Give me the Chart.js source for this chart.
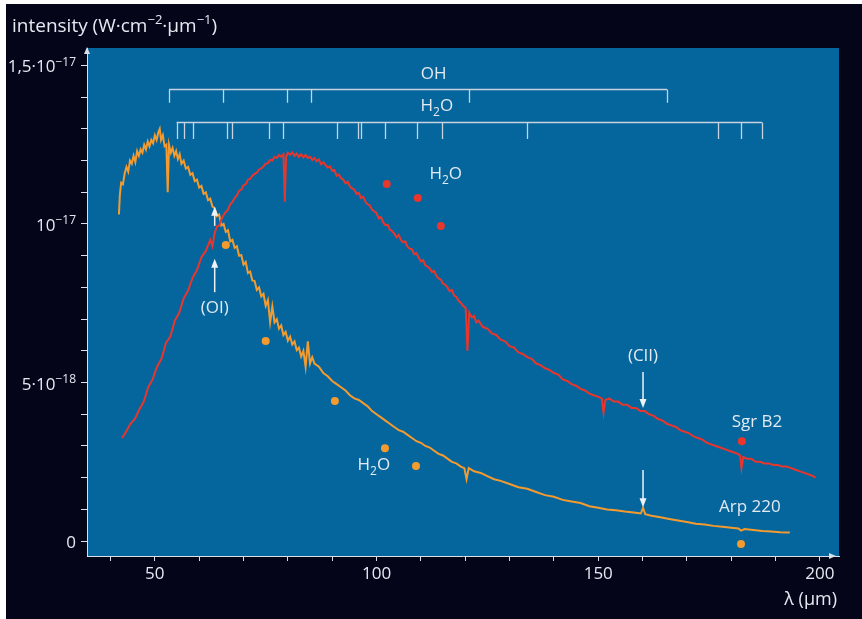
<!DOCTYPE html>
<html>
<head>
<meta charset="utf-8">
<script src="https://cdn.jsdelivr.net/npm/chart.js@4.4.0/dist/chart.umd.min.js"></script>
<style>
  html, body { margin: 0; padding: 0; background: #fff; }
  canvas { display: block; }
</style>
</head>
<body>
<canvas id="spectrum" width="862" height="619"></canvas>
<script>
// wavelength in µm, intensity in units of 1e-18 W·cm-2·µm-1
const sgrLambda = [42.6, 43.5, 44.5, 45.5, 46.5, 47.5, 48.5, 49.5, 50.5, 51.5, 52.5, 53.5, 54.5, 55.5, 56.5, 57.5, 58.5, 59.5, 60.5, 61.5,
  62.5, 63.0, 63.5, 64.0, 64.5, 65.0, 65.5, 66.0, 66.5, 67.0, 67.5, 68.0, 68.5, 69.0, 69.5, 70.0, 70.5, 71.0, 71.5, 72.0,
  72.5, 73.0, 73.5, 74.0, 74.5, 75.0, 75.5, 76.0, 76.5, 77.0, 77.5, 78.0, 78.5, 79.0, 79.3, 79.6, 80.0, 80.5, 81.0, 81.5,
  82.0, 82.5, 83.0, 83.5, 84.0, 84.5, 85.0, 85.5, 86.0, 86.5, 87.0, 87.5, 88.0, 88.5, 89.0, 89.5, 90.0, 90.5, 91.0, 91.5,
  92.0, 92.5, 93.0, 93.5, 94.0, 94.5, 95.0, 95.5, 96.0, 96.5, 97.0, 97.5, 98.0, 98.5, 99.0, 99.5, 100.0, 100.5, 101.0, 101.5,
  102.0, 102.5, 103.0, 103.5, 104.0, 104.5, 105.0, 105.5, 106.0, 106.5, 107.0, 107.5, 108.0, 108.5, 109.0, 109.5, 110.0, 110.5, 111.0, 111.5,
  112.0, 112.5, 113.0, 113.5, 114.0, 114.5, 115.0, 115.5, 116.0, 116.5, 117.0, 117.5, 118.0, 118.5, 119.0, 119.5, 120.1, 120.5, 120.9, 121.5,
  122.0, 122.5, 123.0, 124.0, 125.0, 126.0, 127.0, 128.0, 129.0, 130.0, 131.0, 132.0, 133.0, 134.0, 135.0, 136.0, 137.0, 138.0, 139.0, 140.0,
  141.0, 142.0, 143.0, 144.0, 145.0, 146.0, 147.0, 148.0, 149.0, 150.0, 150.8, 151.2, 151.6, 152.5, 153.5, 154.5, 155.5, 156.5, 157.5, 158.5,
  159.5, 160.5, 161.5, 162.5, 163.5, 164.5, 165.5, 166.5, 167.5, 168.5, 169.5, 170.5, 171.5, 172.5, 173.5, 174.5, 175.5, 176.5, 177.5, 178.5,
  179.5, 180.5, 181.5, 182.0, 182.3, 182.7, 183.5, 184.5, 185.5, 186.5, 187.5, 188.5, 189.5, 190.5, 191.5, 192.5, 193.5, 194.5, 195.5, 196.5,
  197.5, 198.5, 199.0];
const sgrFlux = [3.25, 3.45, 3.7, 3.85, 4.15, 4.4, 4.85, 5.1, 5.5, 5.75, 6.25, 6.45, 6.95, 7.2, 7.65, 7.9, 8.3, 8.55, 8.95, 9.15,
  9.5, 9.3, 9.72, 9.92, 9.95, 10.15, 10.28, 10.38, 10.45, 10.62, 10.7, 10.82, 10.9, 11.05, 11.08, 11.22, 11.25, 11.4, 11.42, 11.52,
  11.58, 11.62, 11.72, 11.75, 11.82, 11.9, 11.92, 12.02, 12.0, 12.12, 12.08, 12.18, 12.12, 12.2, 10.7, 12.12, 12.25, 12.18, 12.26, 12.15,
  12.22, 12.12, 12.2, 12.1, 12.18, 12.08, 12.12, 12.02, 12.08, 11.98, 12.04, 11.88, 11.95, 11.86, 11.78, 11.82, 11.68, 11.7, 11.52, 11.56,
  11.44, 11.4, 11.28, 11.33, 11.18, 11.12, 11.08, 10.95, 10.98, 10.82, 10.86, 10.7, 10.62, 10.58, 10.45, 10.4, 10.34, 10.18, 10.22, 10.05,
  9.96, 9.98, 9.82, 9.78, 9.7, 9.58, 9.66, 9.5, 9.42, 9.45, 9.28, 9.22, 9.2, 9.04, 9.08, 8.94, 8.82, 8.86, 8.7, 8.66,
  8.6, 8.48, 8.52, 8.36, 8.28, 8.25, 8.12, 8.08, 8.0, 7.88, 7.92, 7.74, 7.7, 7.58, 7.52, 7.42, 7.35, 6.0, 7.2, 7.05,
  7.1, 6.9, 6.95, 6.75, 6.7, 6.55, 6.5, 6.35, 6.3, 6.15, 6.1, 5.95, 5.9, 5.8, 5.75, 5.6, 5.55, 5.45, 5.4, 5.3,
  5.25, 5.1, 5.05, 4.95, 4.9, 4.8, 4.75, 4.65, 4.6, 4.55, 4.5, 4.05, 4.45, 4.5, 4.4, 4.4, 4.3, 4.3, 4.2, 4.2,
  4.1, 4.1, 4.0, 3.95, 3.85, 3.8, 3.7, 3.65, 3.6, 3.5, 3.45, 3.4, 3.3, 3.25, 3.2, 3.1, 3.05, 3.0, 2.95, 2.9,
  2.85, 2.8, 2.75, 2.7, 2.3, 2.65, 2.6, 2.6, 2.5, 2.5, 2.45, 2.45, 2.4, 2.4, 2.35, 2.35, 2.3, 2.25, 2.2, 2.15,
  2.1, 2.05, 2.0];

const arpLambda = [41.9, 42.1, 42.4, 42.8, 43.2, 43.6, 44.0, 44.4, 44.8, 45.2, 45.6, 46.0, 46.4, 46.8, 47.2, 47.6, 48.0, 48.4, 48.8, 49.2,
  49.6, 50.0, 50.4, 50.8, 51.1, 51.4, 51.8, 52.2, 52.6, 52.9, 53.2, 53.6, 54.0, 54.4, 54.8, 55.2, 55.6, 56.0, 56.5, 57.0,
  57.5, 58.0, 58.5, 59.0, 59.5, 60.0, 60.5, 61.0, 61.5, 62.0, 62.5, 63.0, 63.5, 64.0, 64.5, 65.0, 65.5, 66.0, 66.5, 67.0,
  67.5, 68.0, 68.5, 69.0, 69.5, 70.0, 70.5, 71.0, 71.5, 72.0, 72.5, 73.0, 73.5, 74.0, 74.5, 75.0, 75.5, 76.0, 76.5, 77.0,
  77.5, 78.0, 78.5, 79.0, 79.5, 80.0, 80.5, 81.0, 81.5, 82.0, 82.5, 83.0, 83.5, 84.0, 84.5, 85.0, 85.5, 86.0, 87.0, 88.0,
  89.0, 90.0, 91.0, 92.0, 93.0, 94.0, 95.0, 96.0, 97.0, 98.0, 99.0, 100.0, 101.0, 102.0, 103.0, 104.0, 105.0, 106.0, 107.0, 108.0,
  109.0, 110.0, 111.0, 112.0, 113.0, 114.0, 115.0, 116.0, 117.0, 118.0, 119.0, 119.8, 120.3, 120.8, 122.0, 123.5, 125.0, 126.5, 128.0, 130.0,
  132.0, 134.0, 136.0, 138.0, 140.0, 142.0, 144.0, 146.0, 148.0, 150.0, 152.0, 154.0, 156.0, 158.0, 159.6, 160.1, 160.6, 162.0, 164.0, 166.0,
  168.0, 170.0, 172.0, 174.0, 176.0, 178.0, 180.0, 181.6, 182.2, 183.0, 185.0, 187.0, 189.0, 191.0, 193.2];
const arpFlux = [10.3, 10.9, 11.3, 11.25, 11.6, 11.8, 11.65, 12.0, 11.9, 12.15, 11.95, 12.3, 12.15, 12.35, 12.25, 12.5, 12.35, 12.6, 12.45, 12.65,
  12.55, 12.8, 12.65, 12.9, 13.0, 12.65, 12.8, 12.45, 12.5, 11.0, 12.5, 12.25, 12.4, 12.15, 12.3, 12.05, 12.2, 11.9, 12.0, 11.75,
  11.8, 11.55, 11.6, 11.35, 11.4, 11.15, 11.2, 10.95, 11.0, 10.75, 10.8, 10.55, 10.5, 10.25, 10.3, 9.95, 10.0, 9.75, 9.8, 9.45,
  9.5, 9.25, 9.3, 9.0, 9.02, 8.72, 8.8, 8.45, 8.5, 8.22, 8.2, 7.92, 8.0, 7.72, 7.8, 7.42, 7.6, 6.9, 7.4, 6.9,
  7.0, 6.7, 6.8, 6.5, 6.6, 6.32, 6.45, 6.2, 6.3, 6.02, 6.1, 5.82, 6.0, 5.5, 6.3, 5.6, 5.8, 5.6, 5.5, 5.3,
  5.2, 5.05, 4.95, 4.85, 4.75, 4.6, 4.5, 4.45, 4.35, 4.25, 4.1, 4.0, 3.9, 3.8, 3.7, 3.6, 3.5, 3.45, 3.35, 3.25,
  3.15, 3.1, 3.0, 2.95, 2.85, 2.75, 2.7, 2.6, 2.5, 2.45, 2.35, 2.3, 1.95, 2.3, 2.2, 2.15, 2.05, 1.95, 1.9, 1.8,
  1.7, 1.65, 1.55, 1.45, 1.4, 1.3, 1.25, 1.2, 1.1, 1.05, 1.0, 0.97, 0.93, 0.9, 0.87, 1.05, 0.85, 0.8, 0.75, 0.7,
  0.65, 0.6, 0.55, 0.52, 0.48, 0.45, 0.42, 0.4, 0.33, 0.38, 0.35, 0.32, 0.3, 0.28, 0.27];

// far-IR H2O / continuum photometry points
const sgrDotLambda = [102.3, 109.3, 114.5, 182.4];
const sgrDotFlux = [11.26, 10.82, 9.94, 3.15];
const arpDotLambda = [66.0, 75.0, 90.6, 101.9, 108.9, 182.2];
const arpDotFlux = [9.34, 6.31, 4.42, 2.93, 2.37, -0.09];

// line identifications (µm)
const ohLines = [53.2, 65.3, 79.8, 85.2, 120.8, 165.5];
const h2oLines = [54.9, 56.6, 58.6, 66.3, 67.5, 75.8, 78.8, 91.0, 95.9, 96.6, 102.0, 109.2, 114.7, 134.0, 177.1, 182.3, 186.9];
const oiLine = 63.5;
const ciiLine = 160.1;

const xTicks = [40, 50, 60, 70, 80, 90, 100, 110, 120, 130, 140, 150, 160, 170, 180, 190, 200];
const yTicks = [0, 1, 2, 3, 4, 5, 6, 7, 8, 9, 10, 11, 12, 13, 14, 15];
const yLabelValues = [0, 5, 10, 15];
const yLabelBase = ['0', '5·10', '10', '1,5·10'];
const yLabelExp = ['', '−18', '−17', '−17'];

const FONT = '"Open Sans", "Noto Sans", sans-serif';
const TEXT = '#e4eaf1';
const AXIS = '#d8e0ea';
const RED = '#e8362c';
const ORANGE = '#f49b30';

const pts = (xs, ys) => xs.map((x, i) => ({ x: x, y: ys[i] }));

// parts: [text, shift] with shift 0 normal, 1 subscript, -1 superscript
function richText(ctx, parts, x, y, size, align) {
  const small = Math.round(size * 0.7);
  let w = 0;
  parts.forEach(([t, s]) => {
    ctx.font = (s ? small : size) + 'px ' + FONT;
    w += ctx.measureText(t).width;
  });
  let cx = align === 'right' ? x - w : align === 'center' ? x - w / 2 : x;
  ctx.textAlign = 'left';
  ctx.textBaseline = 'alphabetic';
  parts.forEach(([t, s]) => {
    ctx.font = (s ? small : size) + 'px ' + FONT;
    const dy = s === 1 ? size * 0.28 : s === -1 ? -size * 0.4 : 0;
    ctx.fillText(t, cx, y + dy);
    cx += ctx.measureText(t).width;
  });
}

function arrow(ctx, x, yFrom, yTip) {
  const dir = yTip < yFrom ? -1 : 1;
  ctx.beginPath();
  ctx.moveTo(x, yFrom);
  ctx.lineTo(x, yTip - dir * 6);
  ctx.stroke();
  ctx.beginPath();
  ctx.moveTo(x, yTip);
  ctx.lineTo(x - 3.5, yTip - dir * 9);
  ctx.lineTo(x + 3.5, yTip - dir * 9);
  ctx.closePath();
  ctx.fill();
}

const decor = {
  id: 'decor',
  beforeDraw(chart) {
    const { ctx, chartArea: a } = chart;
    ctx.save();
    ctx.fillStyle = '#ffffff';
    ctx.fillRect(0, 0, chart.width, chart.height);
    ctx.fillStyle = '#05051a';
    ctx.fillRect(6, 4, chart.width - 6, chart.height - 4);
    ctx.fillStyle = '#05659d';
    ctx.fillRect(a.left, a.top, a.right - a.left, a.bottom - a.top);
    ctx.restore();
  },
  afterDraw(chart) {
    const { ctx, chartArea: a } = chart;
    const xs = chart.scales.x, ys = chart.scales.y;
    const px = v => xs.getPixelForValue(v);
    const py = v => ys.getPixelForValue(v);
    ctx.save();
    ctx.strokeStyle = '#c9d3e0';
    ctx.fillStyle = TEXT;
    ctx.lineWidth = 1.3;

    // OH bracket
    const ohTop = Math.round(py(14.26)) + 0.5, ohBot = py(13.82);
    ctx.beginPath();
    ctx.moveTo(px(ohLines[0]), ohTop);
    ctx.lineTo(px(ohLines[ohLines.length - 1]), ohTop);
    ohLines.forEach(l => { ctx.moveTo(Math.round(px(l)) + 0.5, ohTop); ctx.lineTo(Math.round(px(l)) + 0.5, ohBot); });
    ctx.stroke();
    richText(ctx, [['OH', 0]], px(112.9), py(14.76) + 6, 17, 'center');

    // H2O bracket
    const hTop = Math.round(py(13.22)) + 0.5, hBot = py(12.68);
    ctx.beginPath();
    ctx.moveTo(px(h2oLines[0]), hTop);
    ctx.lineTo(px(h2oLines[h2oLines.length - 1]), hTop);
    h2oLines.forEach(l => { ctx.moveTo(Math.round(px(l)) + 0.5, hTop); ctx.lineTo(Math.round(px(l)) + 0.5, hBot); });
    ctx.stroke();
    const h2o = [['H', 0], ['2', 1], ['O', 0]];
    richText(ctx, h2o, px(113.6), py(13.72) + 5, 17, 'center');

    // other labels
    richText(ctx, h2o, px(115.6), py(11.6) + 6, 17, 'center');
    richText(ctx, h2o, px(99.4), py(2.43) + 6, 17, 'center');
    richText(ctx, [['(OI)', 0]], px(oiLine), py(7.38) + 6, 17, 'center');
    richText(ctx, [['(CII)', 0]], px(ciiLine), py(5.87) + 6, 17, 'center');
    richText(ctx, [['Sgr B2', 0]], px(185.8), py(3.79) + 6, 17, 'center');
    richText(ctx, [['Arp 220', 0]], px(184.2), py(1.1) + 6, 17, 'center');

    // arrows marking [OI] and [CII]
    ctx.strokeStyle = '#eef2f7';
    ctx.fillStyle = '#eef2f7';
    ctx.lineWidth = 1.5;
    arrow(ctx, px(oiLine), py(9.94), py(10.54));
    arrow(ctx, px(oiLine), py(7.85), py(8.9));
    arrow(ctx, px(ciiLine), py(5.33), py(4.2));
    arrow(ctx, px(ciiLine), py(2.24), py(1.07));

    // axis arrow heads
    ctx.fillStyle = AXIS;
    ctx.beginPath();
    ctx.moveTo(a.left, a.top - 1);
    ctx.lineTo(a.left - 3, a.top + 6);
    ctx.lineTo(a.left + 3, a.top + 6);
    ctx.closePath();
    ctx.fill();
    ctx.beginPath();
    ctx.moveTo(a.right - 3, a.bottom);
    ctx.lineTo(a.right - 10, a.bottom - 3);
    ctx.lineTo(a.right - 10, a.bottom + 3);
    ctx.closePath();
    ctx.fill();

    // y tick labels with exponents
    ctx.fillStyle = TEXT;
    yLabelValues.forEach((v, i) => {
      const parts = [[yLabelBase[i], 0]];
      if (yLabelExp[i]) parts.push([yLabelExp[i], -1]);
      richText(ctx, parts, a.left - 11, py(v) + 7, 17, 'right');
    });

    // axis titles
    richText(ctx, [['intensity (W·cm', 0], ['−2', -1], ['·µm', 0], ['−1', -1], [')', 0]], 12, 32, 19, 'left');
    richText(ctx, [['λ (µm)', 0]], a.right - 2, 605, 18, 'right');
    ctx.restore();
  }
};

new Chart(document.getElementById('spectrum'), {
  type: 'line',
  data: {
    datasets: [
      { label: 'Sgr B2', data: pts(sgrLambda, sgrFlux), borderColor: RED, borderWidth: 2, pointRadius: 0, tension: 0 },
      { label: 'Arp 220', data: pts(arpLambda, arpFlux), borderColor: ORANGE, borderWidth: 2, pointRadius: 0, tension: 0 },
      { type: 'scatter', label: 'Sgr B2 H2O', data: pts(sgrDotLambda, sgrDotFlux), backgroundColor: RED, borderWidth: 0, pointRadius: 4 },
      { type: 'scatter', label: 'Arp 220 H2O', data: pts(arpDotLambda, arpDotFlux), backgroundColor: ORANGE, borderWidth: 0, pointRadius: 4 }
    ]
  },
  options: {
    responsive: false,
    devicePixelRatio: 1,
    animation: false,
    layout: { padding: { left: 0, top: 48, right: 23, bottom: 0 } },
    plugins: { legend: { display: false }, tooltip: { enabled: false } },
    scales: {
      x: {
        type: 'linear',
        min: 34.7,
        max: 204.3,
        afterBuildTicks: s => { s.ticks = xTicks.map(v => ({ value: v })); },
        afterFit: s => { s.height = 63; },
        ticks: {
          autoSkip: false, maxRotation: 0, padding: 3, color: TEXT,
          font: { family: FONT, size: 17 },
          callback: v => (v % 50 === 0 ? String(v) : '')
        },
        grid: { drawOnChartArea: false, drawTicks: true, tickLength: 5, color: AXIS },
        border: { display: true, color: AXIS, width: 1 }
      },
      y: {
        type: 'linear',
        min: -0.47,
        max: 15.55,
        afterBuildTicks: s => { s.ticks = yTicks.map(v => ({ value: v })); },
        afterFit: s => { s.width = 87; },
        ticks: { color: TEXT, callback: () => '' },
        grid: { drawOnChartArea: false, drawTicks: true, tickLength: 6, color: AXIS },
        border: { display: true, color: AXIS, width: 1 }
      }
    }
  },
  plugins: [decor]
});
</script>
</body>
</html>
